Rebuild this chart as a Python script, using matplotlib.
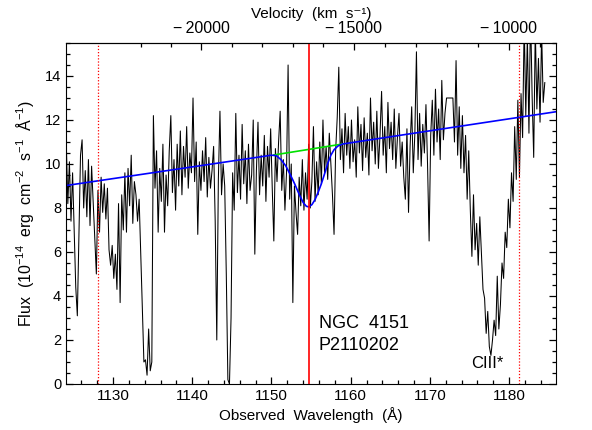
import matplotlib
matplotlib.use("Agg")
import matplotlib.pyplot as plt
from matplotlib.ticker import MultipleLocator, FixedLocator, FuncFormatter
import numpy as np

plt.rcParams["font.family"] = ["Liberation Sans", "DejaVu Sans"]
plt.rcParams["mathtext.default"] = "regular"

# observed spectrum, uniform grid starting at 1124.1 A with 0.2 A bins
wave_start = 1124.1
wave_step = 0.2
flux = [
    11.0, 8.2, 10.1, 7.4, 9.6,      # 1124
    7.0, 4.4, 3.1, 6.8, 10.4,       # 1125
    11.1, 8.0, 9.7, 7.6, 10.2,      # 1126
    7.2, 9.9, 8.3, 6.6, 5.0,        # 1127
    8.8, 6.9, 9.4, 7.8, 9.1,        # 1128
    7.5, 8.9, 6.1, 5.4, 6.3,        # 1129
    4.8, 5.9, 4.3, 8.2, 3.7,        # 1130
    8.6, 7.0, 9.6, 6.9, 9.8,        # 1131
    8.1, 10.4, 7.3, 9.2, 8.6,       # 1132
    7.4, 8.4, 6.0, 3.5, 1.0,        # 1133
    1.1, 0.4, 2.5, 0.6, 1.0,        # 1134
    12.2, 8.9, 10.6, 6.9, 9.8,      # 1135
    8.3, 10.9, 6.9, 9.5, 8.1,       # 1136
    10.6, 12.2, 8.7, 10.2, 7.9,     # 1137
    10.9, 9.0, 11.5, 8.6, 10.8,     # 1138
    9.4, 11.7, 8.9, 10.5, 9.6,      # 1139
    13.0, 9.2, 11.0, 6.8, 10.1,     # 1140
    8.8, 10.6, 9.2, 11.2, 8.5,      # 1141
    10.3, 8.9, 9.7, 10.8, 7.4,      # 1142
    2.0, 9.3, 12.4, 8.6, 10.0,      # 1143
    9.0, 5.0, 0.2, 0.0, 3.0,        # 1144
    9.6, 7.9, 12.3, 8.7, 10.4,      # 1145
    8.4, 11.8, 9.1, 10.6, 8.2,      # 1146
    10.9, 8.8, 9.5, 12.0, 5.9,      # 1147
    9.7, 11.9, 8.6, 10.4, 9.0,      # 1148
    11.3, 8.3, 10.8, 9.4, 11.6,     # 1149
    8.9, 6.5, 10.7, 9.2, 11.0,      # 1150
    12.4, 8.8, 10.2, 7.9, 9.6,      # 1151
    14.5, 8.4, 10.0, 3.7, 9.0,      # 1152
    7.8, 6.8, 9.4, 8.1, 10.2,       # 1153
    7.9, 9.6, 8.4, 10.9, 8.0,       # 1154
    9.2, 11.7, 8.3, 10.1, 8.6,      # 1155
    11.0, 9.1, 12.0, 9.6, 10.8,     # 1156
    9.3, 11.4, 10.0, 8.6, 6.8,      # 1157
    10.6, 12.1, 14.4, 10.2, 11.6,   # 1158
    9.6, 12.3, 10.4, 11.7, 9.8,     # 1159
    12.0, 10.1, 11.1, 9.4, 12.6,    # 1160
    10.5, 11.8, 9.7, 12.1, 10.3,    # 1161
    11.4, 9.5, 13.0, 10.6, 11.9,    # 1162
    10.0, 12.4, 9.8, 11.3, 13.3,    # 1163
    10.4, 11.7, 9.6, 12.8, 10.7,    # 1164
    11.9, 10.2, 12.5, 9.8, 11.2,    # 1165
    12.3, 9.9, 11.0, 9.4, 8.4,      # 1166
    11.6, 7.8, 10.8, 12.6, 9.6,     # 1167
    11.4, 15.1, 10.2, 12.3, 9.9,    # 1168
    11.8, 10.5, 12.7, 10.0, 6.5,    # 1169
    11.3, 12.9, 10.4, 13.4, 11.0,   # 1170
    12.5, 10.2, 13.8, 11.1, 12.3,   # 1171
    13.0, 13.0, 13.0, 13.0, 13.0,   # 1172
    11.0, 14.7, 10.4, 12.6, 9.8,    # 1173
    12.2, 9.6, 11.3, 8.4, 10.6,     # 1174
    7.9, 5.8, 8.6, 6.1, 7.3,        # 1175
    5.4, 7.6, 6.0, 4.3, 3.9,        # 1176
    2.3, 3.3, 1.7, 1.3, 2.0,        # 1177
    2.9, 2.2, 4.9, 2.5, 3.6,        # 1178
    5.5, 4.8, 6.9, 6.2, 8.4,        # 1179
    7.1, 9.6, 8.3, 11.7, 9.3,       # 1180
    12.9, 9.4, 13.2, 11.2, 16.5,    # 1181
    12.2, 15.8, 11.4, 17.0, 13.1,   # 1182
    10.3, 16.2, 12.5, 14.8, 11.9,   # 1183
    16.0, 12.8, 13.7,               # 1184
]

# fitted continuum + absorption model (blue) and continuum under the trough (green)
model_wave = [1124.07, 1150.0, 1150.6, 1151.2, 1151.8, 1152.4, 1152.9, 1153.5,
              1154.0, 1154.4, 1154.7, 1155.1, 1155.5, 1155.9, 1156.3, 1156.7,
              1157.1, 1157.5, 1157.9, 1158.4, 1159.0, 1186.0]
model_flux = [9.02, 10.40, 10.38, 10.20, 9.92, 9.50, 9.12, 8.62,
              8.25, 8.08, 8.05, 8.15, 8.38, 8.72, 9.10, 9.55,
              10.02, 10.40, 10.65, 10.82, 10.91, 12.38]
cont_wave = [1150.3, 1159.0]
cont_flux = [10.41, 10.91]

line_center = 1154.7
window_lines = [1128.1, 1181.3]

vel_major = [-20000, -15000, -10000]
vel_minor = [-22000, -21000, -19000, -18000, -17000, -16000, -14000,
             -13000, -12000, -11000, -9000]

lam0 = 1220.0
c_kms = 299792.458


def wave_to_vel(w):
    r2 = (np.asarray(w, dtype=float) / lam0) ** 2
    return c_kms * (r2 - 1) / (r2 + 1)


def vel_to_wave(v):
    b = np.asarray(v, dtype=float) / c_kms
    return lam0 * np.sqrt((1 + b) / (1 - b))


wave = wave_start + wave_step * np.arange(len(flux))

fig = plt.figure(figsize=(5.92, 4.30), dpi=100)
ax = fig.add_axes([0.1115, 0.107, 0.8275, 0.793])

ax.plot(wave, flux, color="black", lw=0.75)
ax.plot(cont_wave, cont_flux, color="#00e000", lw=1.2)
ax.plot(model_wave, model_flux, color="blue", lw=1.2)
ax.axvline(line_center, color="red", lw=1.2)
for w in window_lines:
    ax.axvline(w, color="red", lw=0.9, ls=(0, (1, 1.5)))

ax.set_xlim(1124.07, 1185.9)
ax.set_ylim(0, 15.5)

ax.xaxis.set_major_locator(MultipleLocator(10))
ax.xaxis.set_minor_locator(MultipleLocator(2))
ax.yaxis.set_major_locator(MultipleLocator(2))
ax.yaxis.set_minor_locator(MultipleLocator(0.5))
ax.tick_params(which="both", direction="in", right=True, top=False)
ax.tick_params(axis="x", labelsize=11)
ax.tick_params(axis="y", labelsize=10.5)
ax.tick_params(which="major", length=5, width=0.9)
ax.tick_params(which="minor", length=3, width=0.9)

ax.set_xlabel("Observed  Wavelength  (Å)", fontsize=11, labelpad=3)
ax.set_ylabel("Flux  (10$^{-14}$  erg  cm$^{-2}$  s$^{-1}$  Å$^{-1}$)",
              fontsize=11.5, labelpad=6)

sec = ax.secondary_xaxis("top", functions=(wave_to_vel, vel_to_wave))
sec.xaxis.set_major_locator(FixedLocator(vel_major))
sec.xaxis.set_minor_locator(FixedLocator(vel_minor))
sec.xaxis.set_major_formatter(FuncFormatter(lambda v, p: "\u2212\u2009%d" % abs(v)))
sec.tick_params(which="both", direction="in", labelsize=11.5, pad=5)
sec.tick_params(which="major", length=5, width=0.9)
sec.tick_params(which="minor", length=3, width=0.9)
sec.set_xlabel("Velocity  (km  s\u207b\u00b9)", fontsize=11, labelpad=2)

ax.text(1156.0, 2.77, "NGC  4151", fontsize=13, va="center")
ax.text(1156.0, 1.77, "P2110202", fontsize=13, va="center")
ax.text(1177.3, 0.95, "CIII*", fontsize=12, va="center", ha="center")

fig.savefig("out.png", dpi=100)
